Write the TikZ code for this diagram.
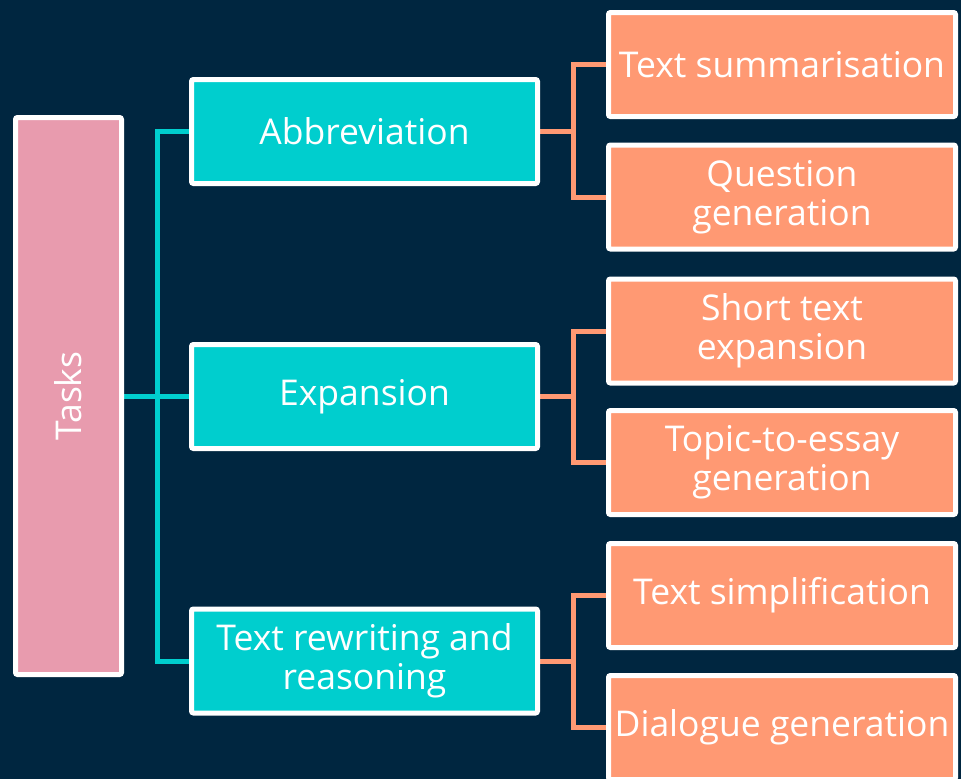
\documentclass[tikz,border=0pt]{standalone}
\usepackage{fontspec}
\setmainfont{Open Sans}
\usetikzlibrary{positioning}
\definecolor{bgnavy}{RGB}{0,38,64}
\definecolor{tealc}{RGB}{0,206,206}
\definecolor{salmon}{RGB}{255,153,115}
\definecolor{rosec}{RGB}{232,155,174}
\pgfdeclarelayer{bg}
\pgfdeclarelayer{wires}
\pgfsetlayers{bg,wires,main}
\tikzset{
  box/.style={draw=white, line width=5pt, rounded corners=2pt, inner sep=0pt,
    text=white, align=center, font=\fontsize{35.5}{39}\selectfont},
  rootbox/.style={box, fill=rosec, minimum width=106pt, minimum height=557pt},
  midbox/.style={box, fill=tealc, minimum width=346pt, minimum height=104pt},
  leafbox/.style={box, fill=salmon, minimum width=347pt, minimum height=104pt},
  tealwire/.style={draw=tealc, line width=5pt},
  salmonwire/.style={draw=salmon, line width=5pt},
}
\begin{document}
\begin{tikzpicture}[x=1pt,y=-1pt]
\begin{pgfonlayer}{bg}
  \fill[bgnavy] (0,0) rectangle (961,779);
\end{pgfonlayer}
\useasboundingbox (0,0) rectangle (961,779);
\begin{scope}
\clip (0,0) rectangle (961,779);
% root
\node[rootbox] (tasks) at (68.5,396) {\rotatebox{90}{Tasks}};
% second level
\node[midbox] (abbr) at (364.5,131.5) {Abbreviation};
\node[midbox] (expa) at (364.5,396.5) {Expansion};
\node[midbox] (rewr) at (364.5,661) {Text rewriting and\\reasoning};
% leaves
\node[leafbox] (summ) at (782,64.5) {Text summarisation};
\node[leafbox] (qgen) at (782,197) {Question\\generation};
\node[leafbox] (stex) at (782,331) {Short text\\expansion};
\node[leafbox] (tope) at (782,462.5) {Topic-to-essay\\generation};
\node[leafbox] (simp) at (782,595.5) {Text simplification};
\node[leafbox] (dial) at (782,727.5) {Dialogue generation};
% trunk positions of the elbow connectors
\coordinate (tk0) at (157,0);
\coordinate (tk1) at (573,0);
\begin{pgfonlayer}{wires}
  \draw[tealwire] (tasks.east) -- (tasks.east -| tk0);
  \foreach \m in {abbr,expa,rewr}
    \draw[tealwire] (tasks.east -| tk0) |- (\m.west);
  \foreach \m/\a/\b in {abbr/summ/qgen, expa/stex/tope, rewr/simp/dial}{
    \draw[salmonwire] (\m.east) -- (\m.east -| tk1);
    \draw[salmonwire] (\m.east -| tk1) |- (\a.west);
    \draw[salmonwire] (\m.east -| tk1) |- (\b.west);
  }
\end{pgfonlayer}
\end{scope}
\end{tikzpicture}
\end{document}
